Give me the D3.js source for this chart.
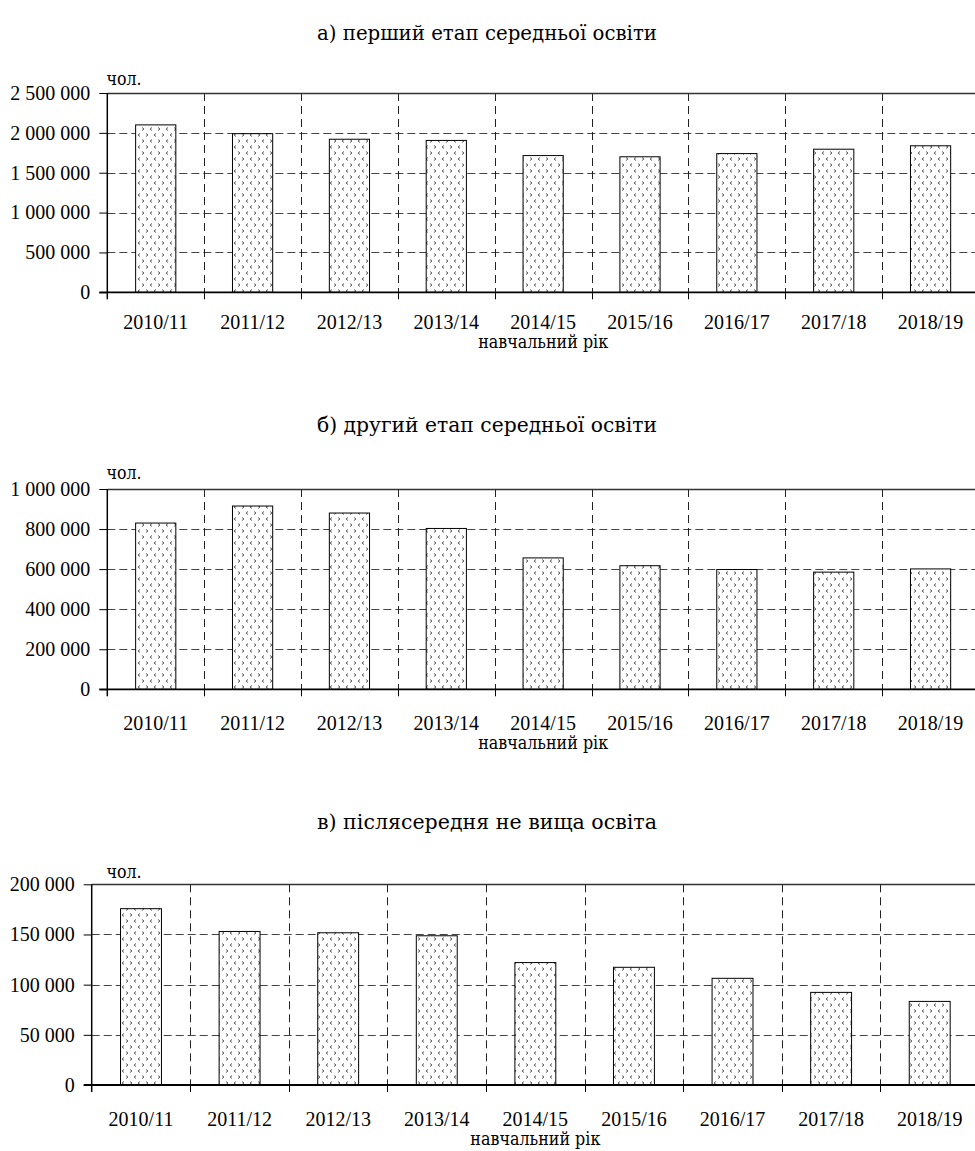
<!DOCTYPE html>
<html>
<head>
<meta charset="utf-8">
<script src="https://cdn.jsdelivr.net/npm/d3@7"></script>
<style>
  html, body { margin: 0; padding: 0; background: #fff; }
  svg text { font-family: "Liberation Serif", "DejaVu Serif", serif; fill: #000; }
  svg text.cyr { font-family: "DejaVu Serif", "Liberation Serif", serif; }
</style>
</head>
<body>
<svg id="chart" width="975" height="1151"></svg>
<script>
// Навчальні роки
const years = ["2010/11", "2011/12", "2012/13", "2013/14", "2014/15", "2015/16", "2016/17", "2017/18", "2018/19"];

// Кількість учнів, чол.
const stage1 = [2100000, 1990000, 1920000, 1905000, 1715000, 1700000, 1740000, 1795000, 1838000];
const stage2 = [830000, 915000, 880000, 803000, 656000, 617000, 598000, 585000, 601000];
const postSecondary = [175700, 153000, 151700, 148700, 122000, 117300, 106300, 92300, 83300];

// Поділки осі значень
const ticks1 = [0, 500000, 1000000, 1500000, 2000000, 2500000];
const ticks2 = [0, 200000, 400000, 600000, 800000, 1000000];
const ticks3 = [0, 50000, 100000, 150000, 200000];

const titles = [
  "а) перший етап середньої освіти",
  "б) другий етап середньої освіти",
  "в) післясередня не вища освіта"
];
const unitLabel = "чол.";
const axisTitle = "навчальний рік";

const svg = d3.select("#chart");

// Штрихування стовпчиків: дрібні кутові знаки
const defs = svg.append("defs");
const pat = defs.append("pattern")
  .attr("id", "chevrons")
  .attr("patternUnits", "userSpaceOnUse")
  .attr("width", 16).attr("height", 12);
pat.append("rect").attr("width", 16).attr("height", 12).attr("fill", "#fff");
const marks = [
  {x: 2, y: 1.5, dir: 1}, {x: 10, y: 1.5, dir: -1},
  {x: 6, y: 7.5, dir: -1}, {x: 14, y: 7.5, dir: 1}
];
marks.forEach(m => {
  const p = m.dir > 0
    ? `M${m.x},${m.y} L${m.x + 2},${m.y + 1.5} L${m.x},${m.y + 3}`
    : `M${m.x + 2},${m.y} L${m.x},${m.y + 1.5} L${m.x + 2},${m.y + 3}`;
  pat.append("path").attr("d", p)
    .attr("fill", "none").attr("stroke", "#4a4a4a").attr("stroke-width", 0.9);
});

const FS = 20;        // підписи осей
const FS_CYR = 18.5;  // кириличні підписи
const FS_TITLE = 21;  // заголовки
const fmt = v => d3.format(",")(v).replace(/,/g, " ");

function panel(cfg) {
  const {values, ticks, left, right, top, bottom, titleY, title, labOff, axOff, unitOff} = cfg;
  const g = svg.append("g");

  const x = d3.scaleBand().domain(years).range([left, right]).padding(0);
  const y = d3.scaleLinear().domain([0, ticks[ticks.length - 1]]).range([bottom, top]);
  const bw = x.bandwidth() * 0.415;

  // Заголовок
  g.append("text").attr("class", "cyr")
    .attr("x", 487).attr("y", titleY)
    .attr("text-anchor", "middle")
    .attr("textLength", 340).attr("lengthAdjust", "spacingAndGlyphs")
    .style("font-size", FS_TITLE + "px")
    .text(title);

  // Горизонтальна сітка
  g.selectAll(".hgrid").data(ticks.slice(1, -1)).join("line")
    .attr("x1", left).attr("x2", right)
    .attr("y1", d => Math.round(y(d)) + 0.5).attr("y2", d => Math.round(y(d)) + 0.5)
    .attr("stroke", "#444").attr("stroke-width", 1)
    .attr("stroke-dasharray", "8,4");

  // Вертикальна сітка між категоріями
  const bounds = years.slice(1).map(d => x(d));
  g.selectAll(".vgrid").data(bounds).join("line")
    .attr("x1", d => Math.round(d) + 0.5).attr("x2", d => Math.round(d) + 0.5)
    .attr("y1", top).attr("y2", bottom)
    .attr("stroke", "#222").attr("stroke-width", 1)
    .attr("stroke-dasharray", "8,5");
  g.selectAll(".vtick").data(bounds).join("line")
    .attr("x1", d => Math.round(d) + 0.5).attr("x2", d => Math.round(d) + 0.5)
    .attr("y1", bottom).attr("y2", bottom + 7)
    .attr("stroke", "#000").attr("stroke-width", 1);

  // Верхня межа області побудови
  g.append("line")
    .attr("x1", left).attr("x2", right)
    .attr("y1", Math.round(top) + 0.5).attr("y2", Math.round(top) + 0.5)
    .attr("stroke", "#333").attr("stroke-width", 1.5);

  // Стовпчики
  g.selectAll(".bar").data(values).join("rect")
    .attr("x", (d, i) => x(years[i]) + (x.bandwidth() - bw) / 2)
    .attr("width", bw)
    .attr("y", d => y(d))
    .attr("height", d => bottom - y(d))
    .attr("fill", "url(#chevrons)")
    .attr("stroke", "#000").attr("stroke-width", 1);

  // Вісь значень
  const yAxis = d3.axisLeft(y).tickValues(ticks).tickFormat(fmt).tickSize(8).tickPadding(9);
  const ya = g.append("g").attr("transform", `translate(${left},0)`).call(yAxis);
  ya.attr("font-family", null);
  ya.select(".domain").attr("stroke", "#000").attr("stroke-width", 1.5)
    .attr("d", `M0,${top}V${bottom + 7}`);
  ya.selectAll(".tick line").attr("stroke", "#000");
  ya.selectAll(".tick text").style("font-size", FS + "px");

  // Вісь категорій
  g.append("line")
    .attr("x1", left - 8).attr("x2", right)
    .attr("y1", bottom).attr("y2", bottom)
    .attr("stroke", "#000").attr("stroke-width", 1.8);
  g.selectAll(".xlab").data(years).join("text")
    .attr("x", d => x(d) + x.bandwidth() / 2)
    .attr("y", bottom + labOff)
    .attr("text-anchor", "middle")
    .style("font-size", FS + "px")
    .text(d => d);

  g.append("text").attr("class", "cyr")
    .attr("x", (left + right) / 2).attr("y", bottom + axOff)
    .attr("text-anchor", "middle")
    .attr("textLength", 130).attr("lengthAdjust", "spacingAndGlyphs")
    .style("font-size", FS_CYR + "px")
    .text(axisTitle);

  g.append("text").attr("class", "cyr")
    .attr("x", 106.5).attr("y", top - unitOff)
    .attr("textLength", 35).attr("lengthAdjust", "spacingAndGlyphs")
    .style("font-size", FS_CYR + "px")
    .text(unitLabel);
}

panel({values: stage1, ticks: ticks1, left: 107.3, right: 979, top: 93, bottom: 292.3, titleY: 40, title: titles[0], labOff: 37, axOff: 56, unitOff: 8});
panel({values: stage2, ticks: ticks2, left: 107.3, right: 979, top: 489, bottom: 689.3, titleY: 432, title: titles[1], labOff: 41, axOff: 60, unitOff: 10});
panel({values: postSecondary, ticks: ticks3, left: 91.7, right: 979, top: 884.3, bottom: 1085, titleY: 829, title: titles[2], labOff: 41, axOff: 60, unitOff: 6});
</script>
</body>
</html>
